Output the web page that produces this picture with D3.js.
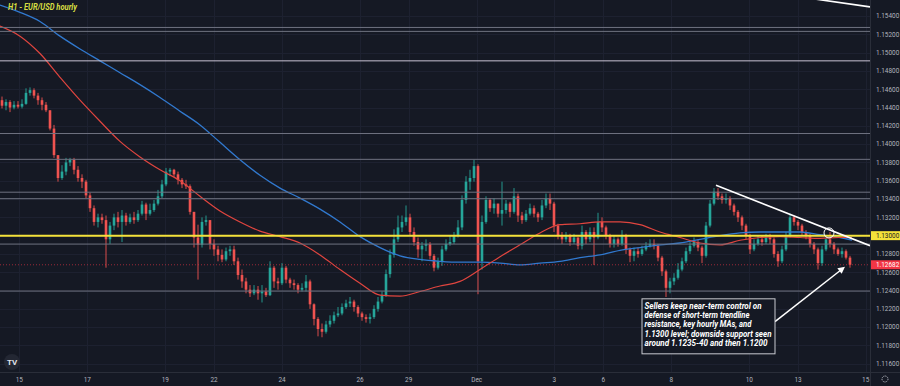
<!DOCTYPE html>
<html lang="en">
<head>
<meta charset="utf-8">
<title>H1 - EUR/USD hourly</title>
<script src="https://cdn.jsdelivr.net/npm/d3@7"></script>
<style>
  body { margin: 0; background: #151924; }
  svg { display: block; font-family: Roboto, "Liberation Sans", sans-serif; }
</style>
</head>
<body>
<div id="chart"></div>
<script>
// candles (open = previous close)
var firstOpen = 1.1448;
var closes = [
  1.1442,1.1446,1.1440,1.1443,1.1441,1.1444,1.1456,1.1459,1.1453,1.1448,
  1.1443,1.1437,1.1417,1.1388,1.1363,1.1370,1.1380,1.1383,1.1372,1.1363,
  1.1359,1.1344,1.1330,1.1315,1.1320,1.1317,1.1296,1.1311,1.1320,1.1315,
  1.1322,1.1315,1.1320,1.1317,1.1324,1.1334,1.1324,1.1328,1.1335,1.1343,
  1.1356,1.1370,1.1372,1.1367,1.1361,1.1356,1.1354,1.1326,1.1298,1.1290,
  1.1315,1.1317,1.1291,1.1285,1.1279,1.1274,1.1283,1.1285,1.1272,1.1257,
  1.1250,1.1241,1.1237,1.1241,1.1237,1.1239,1.1235,1.1265,1.1250,1.1248,
  1.1265,1.1252,1.1248,1.1246,1.1241,1.1243,1.1250,1.1225,1.1209,1.1198,
  1.1195,1.1203,1.1207,1.1213,1.1215,1.1222,1.1226,1.1228,1.1222,1.1215,
  1.1211,1.1209,1.1211,1.1220,1.1228,1.1235,1.1258,1.1279,1.1296,1.1309,
  1.1315,1.1320,1.1304,1.1293,1.1285,1.1289,1.1291,1.1278,1.1265,1.1272,
  1.1285,1.1291,1.1293,1.1300,1.1309,1.1339,1.1359,1.1363,1.1376,1.1272,
  1.1315,1.1339,1.1330,1.1335,1.1324,1.1328,1.1335,1.1326,1.1343,1.1322,
  1.1317,1.1324,1.1330,1.1324,1.1320,1.1333,1.1341,1.1335,1.1311,1.1300,
  1.1296,1.1300,1.1293,1.1298,1.1289,1.1304,1.1296,1.1304,1.1298,1.1315,
  1.1309,1.1300,1.1291,1.1296,1.1291,1.1300,1.1285,1.1278,1.1283,1.1280,
  1.1285,1.1289,1.1291,1.1289,1.1276,1.1261,1.1243,1.1250,1.1254,1.1263,
  1.1272,1.1283,1.1289,1.1293,1.1287,1.1278,1.1311,1.1335,1.1348,1.1343,
  1.1339,1.1341,1.1333,1.1326,1.1320,1.1311,1.1300,1.1285,1.1291,1.1296,
  1.1293,1.1298,1.1296,1.1280,1.1272,1.1285,1.1300,1.1320,1.1315,1.1311,
  1.1304,1.1300,1.1291,1.1285,1.1270,1.1285,1.1296,1.1291,1.1285,1.1280,
  1.1283,1.1276,1.12682
];
var highs = [
  1.1452,1.1449,1.1448,1.1447,1.1447,1.1449,1.1461,1.1462,1.1461,1.1456,
  1.1451,1.1446,1.1437,1.1421,1.1388,1.1377,1.1385,1.1385,1.1385,1.1376,
  1.1367,1.1361,1.1347,1.1333,1.1324,1.1324,1.1322,1.1315,1.1324,1.1326,
  1.1328,1.1325,1.1324,1.1326,1.1328,1.1338,1.1336,1.1335,1.1339,1.1350,
  1.1361,1.1374,1.1374,1.1373,1.1370,1.1363,1.1361,1.1356,1.1326,1.1312,
  1.1320,1.1322,1.1317,1.1296,1.1289,1.1285,1.1287,1.1289,1.1289,1.1276,
  1.1263,1.1254,1.1246,1.1246,1.1245,1.1246,1.1243,1.1272,1.1267,1.1254,
  1.1270,1.1267,1.1254,1.1252,1.1248,1.1248,1.1257,1.1252,1.1226,1.1211,
  1.1204,1.1207,1.1213,1.1217,1.1222,1.1226,1.1230,1.1233,1.1230,1.1224,
  1.1217,1.1214,1.1215,1.1224,1.1233,1.1239,1.1263,1.1285,1.1307,1.1322,
  1.1322,1.1333,1.1324,1.1309,1.1298,1.1293,1.1296,1.1293,1.1280,1.1276,
  1.1289,1.1296,1.1300,1.1304,1.1317,1.1344,1.1365,1.1372,1.1383,1.1378,
  1.1322,1.1343,1.1341,1.1341,1.1335,1.1359,1.1339,1.1337,1.1352,1.1346,
  1.1326,1.1328,1.1335,1.1333,1.1326,1.1339,1.1346,1.1346,1.1337,1.1313,
  1.1304,1.1304,1.1302,1.1302,1.1298,1.1311,1.1306,1.1309,1.1309,1.1325,
  1.1320,1.1311,1.1302,1.1300,1.1298,1.1306,1.1302,1.1287,1.1287,1.1287,
  1.1289,1.1293,1.1296,1.1296,1.1291,1.1278,1.1263,1.1254,1.1259,1.1270,
  1.1276,1.1287,1.1293,1.1298,1.1296,1.1289,1.1315,1.1339,1.1352,1.1352,
  1.1346,1.1346,1.1343,1.1335,1.1328,1.1322,1.1313,1.1302,1.1296,1.1300,
  1.1300,1.1302,1.1302,1.1298,1.1283,1.1289,1.1304,1.1324,1.1322,1.1317,
  1.1313,1.1306,1.1302,1.1293,1.1287,1.1289,1.1300,1.1304,1.1293,1.1287,
  1.1287,1.1285,1.1278
];
var lows = [
  1.1439,1.1437,1.1435,1.1438,1.1439,1.1439,1.1443,1.1453,1.1450,1.1443,
  1.1437,1.1435,1.1415,1.1385,1.1359,1.1361,1.1366,1.1376,1.1367,1.1359,
  1.1352,1.1341,1.1326,1.1311,1.1309,1.1313,1.1265,1.1291,1.1306,1.1309,
  1.1293,1.1311,1.1313,1.1313,1.1315,1.1322,1.1317,1.1322,1.1326,1.1333,
  1.1341,1.1354,1.1365,1.1364,1.1356,1.1352,1.1351,1.1323,1.1287,1.1252,
  1.1287,1.1311,1.1285,1.1278,1.1272,1.1271,1.1272,1.1278,1.1268,1.1252,
  1.1243,1.1237,1.1233,1.1235,1.1230,1.1227,1.1233,1.1234,1.1243,1.1241,
  1.1246,1.1248,1.1243,1.1241,1.1237,1.1239,1.1239,1.1220,1.1202,1.1190,
  1.1189,1.1193,1.1200,1.1204,1.1211,1.1213,1.1220,1.1222,1.1217,1.1211,
  1.1207,1.1205,1.1204,1.1209,1.1217,1.1226,1.1233,1.1254,1.1276,1.1293,
  1.1304,1.1311,1.1300,1.1289,1.1276,1.1272,1.1283,1.1274,1.1261,1.1263,
  1.1267,1.1283,1.1289,1.1291,1.1298,1.1306,1.1335,1.1350,1.1359,1.1236,
  1.1263,1.1313,1.1326,1.1324,1.1320,1.1311,1.1324,1.1320,1.1324,1.1315,
  1.1313,1.1315,1.1322,1.1320,1.1315,1.1317,1.1330,1.1328,1.1304,1.1296,
  1.1291,1.1293,1.1289,1.1291,1.1285,1.1285,1.1291,1.1293,1.1268,1.1296,
  1.1304,1.1296,1.1287,1.1287,1.1288,1.1289,1.1280,1.1271,1.1272,1.1276,
  1.1278,1.1283,1.1287,1.1285,1.1272,1.1256,1.1233,1.1237,1.1246,1.1252,
  1.1261,1.1270,1.1280,1.1287,1.1283,1.1270,1.1276,1.1309,1.1333,1.1339,
  1.1335,1.1335,1.1328,1.1322,1.1315,1.1306,1.1296,1.1280,1.1283,1.1289,
  1.1289,1.1291,1.1291,1.1276,1.1266,1.1270,1.1283,1.1298,1.1311,1.1306,
  1.1300,1.1296,1.1287,1.1280,1.1263,1.1267,1.1283,1.1287,1.1280,1.1278,
  1.1276,1.1274,1.1265
];

// hourly moving averages, sampled along the candle index
var maIdx = [0,5,10,15,20,25,30,35,40,45,50,55,60,65,70,75,80,85,90,95,100,105,
  110,115,120,125,130,135,140,145,150,155,160,165,170,175,180,185,190,195,200,205,210,213];
var maRed = [1.1529,1.1518,1.1499,1.1473,1.1448,1.1425,1.1403,1.1386,1.1372,1.1360,1.1343,
  1.1327,1.1315,1.1305,1.1299,1.1292,1.1279,1.1263,1.1248,1.1235,1.1234,1.1239,1.1245,
  1.1250,1.1263,1.1277,1.1290,1.1303,1.1312,1.1313,1.1315,1.1315,1.1312,1.1304,1.1298,
  1.1292,1.1290,1.1295,1.1298,1.1299,1.1298,1.1297,1.1298,1.1298];
var maBlue = [1.1552,1.1544,1.1534,1.1518,1.1504,1.1491,1.1478,1.1465,1.1451,1.1436,1.1421,
  1.1402,1.1383,1.1366,1.1352,1.1341,1.1329,1.1315,1.1299,1.1287,1.1278,1.1274,1.1272,
  1.1271,1.1271,1.1270,1.1268,1.1270,1.1272,1.1276,1.1279,1.1284,1.1287,1.1290,1.1292,
  1.1296,1.1300,1.1303,1.1304,1.1304,1.1304,1.1301,1.1298,1.1295];

// drawn horizontal levels
var levels = [1.15275, 1.15232, 1.14116, 1.13834, 1.13475, 1.13404, 1.12908, 1.12395];
var lightLevel = 1.1491;
var keyLevel = 1.13;
var lastPrice = 1.12682;

// trendlines: [index, price]
var trendMain = [[179, 1.1355], [217.5, 1.1289]];
var trendTop = [[203, 1.1559], [217.5, 1.1550]];
var touch = [207.25, 1.1303];
var arrow = [[193.75, 1.1206], [211.25, 1.1266]];

var priceTicks = [1.116,1.118,1.120,1.122,1.124,1.126,1.128,1.130,1.132,1.134,
  1.136,1.138,1.140,1.142,1.144,1.146,1.148,1.150,1.152,1.154];
var dayTicks = [4.83, 21.83, 41.33, 53.5, 70.5, 90, 102.17, 119.17, 138.58, 150.83, 167.83, 187.33, 199.5, 216.42];
var dayLabels = ["15", "17", "19", "22", "24", "26", "29", "Dec", "3", "6", "8", "10", "13", "15"];

var noteLines = [
  "Sellers keep near-term control on",
  "defense of short-term trendline",
  "resistance, key hourly MAs, and",
  "1.1300 level; downside support seen",
  "around 1.1235-40 and then 1.1200"
];
var noteWidths = [117, 105, 107, 127, 123];

// sizes
var W = 900, H = 386,
    plotW = 870, plotH = 372;

var upColor = "#26a69a", downColor = "#ef5350";

var svg = d3.select("#chart").append("svg")
  .attr("width", W)
  .attr("height", H);

svg.append("rect").attr("width", W).attr("height", H).attr("fill", "#151924");

var x = d3.scaleLinear().domain([0, 217.5]).range([0, plotW]);
var y = d3.scaleLinear().domain([1.116, 1.154]).range([363.8, 16]);

svg.append("clipPath").attr("id", "plot")
  .append("rect").attr("width", plotW).attr("height", plotH);

var plot = svg.append("g").attr("clip-path", "url(#plot)");

// grid
plot.selectAll(".hgrid").data(priceTicks).enter().append("line")
  .attr("x1", 0).attr("x2", plotW)
  .attr("y1", function(d) { return Math.round(y(d)) + 0.5; })
  .attr("y2", function(d) { return Math.round(y(d)) + 0.5; })
  .attr("stroke", "#1d2130");
plot.selectAll(".vgrid").data(dayTicks).enter().append("line")
  .attr("y1", 0).attr("y2", plotH)
  .attr("x1", function(d) { return Math.round(x(d)) + 0.5; })
  .attr("x2", function(d) { return Math.round(x(d)) + 0.5; })
  .attr("stroke", "#1d2130");

// candles
var candles = closes.map(function(c, i) {
  var o = i === 0 ? firstOpen : closes[i - 1];
  return { i: i, o: o, c: c,
    h: Math.max(highs[i], o, c), l: Math.min(lows[i], o, c) };
});
var bw = 2.6;

var cg = plot.selectAll(".candle").data(candles).enter().append("g");
cg.append("line")
  .attr("x1", function(d) { return x(d.i + 0.5); })
  .attr("x2", function(d) { return x(d.i + 0.5); })
  .attr("y1", function(d) { return y(d.h); })
  .attr("y2", function(d) { return y(d.l); })
  .attr("stroke", function(d) { return d.c >= d.o ? upColor : downColor; })
  .attr("stroke-width", 0.9);
cg.append("rect")
  .attr("x", function(d) { return x(d.i + 0.5) - bw / 2; })
  .attr("width", bw)
  .attr("y", function(d) { return y(Math.max(d.o, d.c)); })
  .attr("height", function(d) { return Math.max(1, Math.abs(y(d.o) - y(d.c))); })
  .attr("fill", function(d) { return d.c >= d.o ? upColor : downColor; });

// moving averages
var maLine = function(vals) {
  return d3.line()
    .x(function(d, i) { return x(maIdx[i]); })
    .y(function(d) { return y(d); })
    .curve(d3.curveMonotoneX)(vals);
};
plot.append("path").attr("d", maLine(maBlue))
  .attr("fill", "none").attr("stroke", "#3179cf").attr("stroke-width", 1.3);
plot.append("path").attr("d", maLine(maRed))
  .attr("fill", "none").attr("stroke", "#e0453f").attr("stroke-width", 1.2);

// horizontal levels
plot.selectAll(".level").data(levels).enter().append("line")
  .attr("x1", 0).attr("x2", plotW)
  .attr("y1", function(d) { return y(d); })
  .attr("y2", function(d) { return y(d); })
  .attr("stroke", "#6f7280").attr("stroke-width", 1);
plot.append("line")
  .attr("x1", 0).attr("x2", plotW)
  .attr("y1", y(lightLevel)).attr("y2", y(lightLevel))
  .attr("stroke", "#c9c3d3").attr("stroke-width", 1);
plot.append("line")
  .attr("x1", 0).attr("x2", plotW)
  .attr("y1", y(lastPrice)).attr("y2", y(lastPrice))
  .attr("stroke", "#f23645").attr("stroke-opacity", 0.6)
  .attr("stroke-dasharray", "1,2");
plot.append("line")
  .attr("x1", 0).attr("x2", plotW)
  .attr("y1", y(keyLevel)).attr("y2", y(keyLevel))
  .attr("stroke", "#f4e23a").attr("stroke-width", 2);

// trendlines
[trendMain, trendTop].forEach(function(t) {
  plot.append("line")
    .attr("x1", x(t[0][0])).attr("y1", y(t[0][1]))
    .attr("x2", x(t[1][0])).attr("y2", y(t[1][1]))
    .attr("stroke", "#ffffff").attr("stroke-width", 1.6);
});
plot.append("circle")
  .attr("cx", x(touch[0])).attr("cy", y(touch[1])).attr("r", 5)
  .attr("fill", "none").attr("stroke", "#ffffff").attr("stroke-width", 1);

// arrow
var ax1 = x(arrow[0][0]), ay1 = y(arrow[0][1]),
    ax2 = x(arrow[1][0]), ay2 = y(arrow[1][1]);
var ang = Math.atan2(ay2 - ay1, ax2 - ax1);
plot.append("line")
  .attr("x1", ax1).attr("y1", ay1)
  .attr("x2", ax2 - 4 * Math.cos(ang)).attr("y2", ay2 - 4 * Math.sin(ang))
  .attr("stroke", "#ffffff").attr("stroke-width", 1.5);
plot.append("path")
  .attr("d", "M0,0 L-7,-3.5 L-7,3.5 Z")
  .attr("transform", "translate(" + ax2 + "," + ay2 + ") rotate(" + (ang * 180 / Math.PI) + ")")
  .attr("fill", "#ffffff");

// annotation box
var boxX = x(160.5), boxY = y(1.1231);
plot.append("rect")
  .attr("x", boxX).attr("y", boxY)
  .attr("width", 133).attr("height", 55)
  .attr("fill", "#151924").attr("stroke", "#c8cad0").attr("stroke-width", 1);
plot.selectAll(".note").data(noteLines).enter().append("text")
  .attr("x", boxX + 2.5)
  .attr("y", function(d, i) { return boxY + 10 + i * 9.3; })
  .attr("textLength", function(d, i) { return noteWidths[i]; })
  .attr("lengthAdjust", "spacingAndGlyphs")
  .attr("fill", "#ffffff")
  .style("font-size", "8.6px")
  .style("font-weight", "bold")
  .style("font-style", "italic")
  .text(function(d) { return d; });

// title
svg.append("text")
  .attr("x", 8).attr("y", 10)
  .attr("textLength", 69).attr("lengthAdjust", "spacingAndGlyphs")
  .attr("fill", "#d7df42")
  .style("font-size", "8.5px").style("font-weight", "bold").style("font-style", "italic")
  .text("H1 - EUR/USD hourly");

// logo
svg.append("circle").attr("cx", 12).attr("cy", 362).attr("r", 8).attr("fill", "#232733");
svg.append("text").attr("x", 12).attr("y", 365)
  .attr("text-anchor", "middle").attr("fill", "#e0e3eb")
  .style("font-size", "8px").style("font-weight", "bold")
  .text("TV");

// axis separators
svg.append("line").attr("x1", plotW + 0.5).attr("x2", plotW + 0.5).attr("y1", 0).attr("y2", H)
  .attr("stroke", "#2a2e39");
svg.append("line").attr("x1", 0).attr("x2", W).attr("y1", plotH + 0.5).attr("y2", plotH + 0.5)
  .attr("stroke", "#2a2e39");

// price axis
svg.selectAll(".ptick").data(priceTicks).enter().append("text")
  .attr("x", 876)
  .attr("y", function(d) { return y(d) + 2.3; })
  .attr("fill", "#b2b5be")
  .style("font-size", "6.4px")
  .text(function(d) { return d.toFixed(5); });

var priceTag = function(p, bg, fg) {
  svg.append("rect").attr("x", 871).attr("y", y(p) - 4.5)
    .attr("width", 29).attr("height", 9).attr("fill", bg);
  svg.append("text").attr("x", 876).attr("y", y(p) + 2.3)
    .attr("fill", fg).style("font-size", "6.4px")
    .text(p.toFixed(5));
};
priceTag(keyLevel, "#f4e23a", "#131722");
priceTag(lastPrice, "#f23645", "#ffffff");

// time axis
svg.selectAll(".dtick").data(dayTicks).enter().append("text")
  .attr("x", function(d) { return x(d); })
  .attr("y", 382)
  .attr("text-anchor", "middle")
  .attr("fill", "#b2b5be")
  .style("font-size", "6.4px")
  .text(function(d, i) { return dayLabels[i]; });

// settings gear
svg.append("circle").attr("cx", 885).attr("cy", 379).attr("r", 3)
  .attr("fill", "none").attr("stroke", "#b2b5be").attr("stroke-width", 1)
  .attr("stroke-dasharray", "1.2,0.8");
</script>
</body>
</html>
